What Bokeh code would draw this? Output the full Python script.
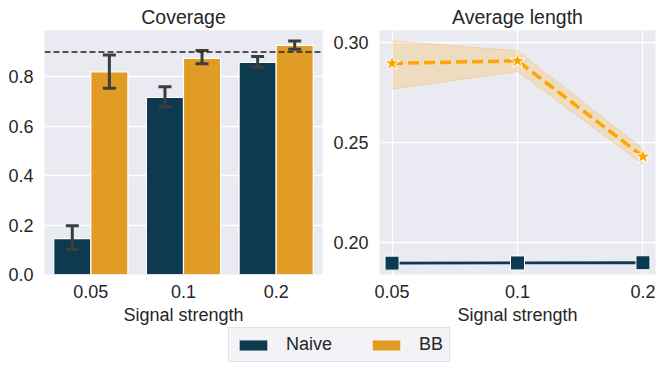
from bokeh.plotting import figure
from bokeh.models import (FactorRange, Range1d, FixedTicker, PrintfTickFormatter,
                          ColumnDataSource, Span, Legend, LegendItem)
from bokeh.transform import dodge
from bokeh.layouts import column, row
from bokeh.embed import file_html
from bokeh.resources import INLINE

# ---------------- data ----------------
signal = ["0.05", "0.1", "0.2"]
methods = ["Naive", "BB"]

cov_naive = [0.145, 0.716, 0.858]
cov_naive_lo = [0.101, 0.678, 0.838]
cov_naive_hi = [0.197, 0.759, 0.882]
cov_bb = [0.820, 0.874, 0.927]
cov_bb_lo = [0.753, 0.852, 0.911]
cov_bb_hi = [0.888, 0.906, 0.945]
target = 0.9

len_naive = [0.1895, 0.1896, 0.1897]
len_naive_lo = [0.1893, 0.1894, 0.1895]
len_naive_hi = [0.1897, 0.1898, 0.1899]
len_bb = [0.2897, 0.2910, 0.2430]
len_bb_lo = [0.2767, 0.2856, 0.2391]
len_bb_hi = [0.3010, 0.2961, 0.2469]

cov_ticks = [0.0, 0.2, 0.4, 0.6, 0.8]
len_ticks = [0.20, 0.25, 0.30]

NAVY_BAR = "#0e3a4f"
ORANGE_BAR = "#e09c24"
NAVY_LINE = "#0b3b50"
ORANGE_LINE = "#ffa500"
BG = "#eaeaf2"
TXT = "#262626"
FONT = "Liberation Sans"


def style(p):
    p.background_fill_color = BG
    p.border_fill_color = "white"
    p.outline_line_color = None
    p.title.text_font = FONT
    p.title.text_font_size = "19.5px"
    p.title.text_font_style = "normal"
    p.title.text_color = TXT
    p.title.align = "center"
    p.title.standoff = 6
    for ax in p.axis:
        ax.axis_line_color = None
        ax.major_tick_line_color = None
        ax.minor_tick_line_color = None
        ax.major_label_text_font = FONT
        ax.major_label_text_font_size = "18px"
        ax.major_label_text_color = TXT
        ax.axis_label_text_font = FONT
        ax.axis_label_text_font_size = "18px"
        ax.axis_label_text_font_style = "normal"
        ax.axis_label_text_color = TXT
    p.grid.grid_line_color = "white"
    p.grid.grid_line_width = 1.3
    p.xaxis.major_label_standoff = 4
    p.xaxis.axis_label_standoff = 4
    p.yaxis.major_tick_out = 0
    p.yaxis.major_tick_in = 0
    p.yaxis.minor_tick_out = 0
    p.yaxis.major_label_standoff = 11


# ---------------- left: coverage bars ----------------
src = ColumnDataSource(dict(
    x=signal, naive=cov_naive, nlo=cov_naive_lo, nhi=cov_naive_hi,
    bb=cov_bb, blo=cov_bb_lo, bhi=cov_bb_hi))

p1 = figure(width=330, height=327, output_backend="svg", toolbar_location=None,
            x_range=FactorRange(*signal, range_padding=0),
            y_range=Range1d(0, 0.987),
            title="Coverage", x_axis_label="Signal strength",
            min_border_left=44, min_border_right=8, min_border_top=0, min_border_bottom=0)
p1.vbar(x=dodge("x", -0.2, range=p1.x_range), top="naive", width=0.4, source=src,
        fill_color=NAVY_BAR, line_color="white", line_width=1.2)
p1.vbar(x=dodge("x", 0.2, range=p1.x_range), top="bb", width=0.4, source=src,
        fill_color=ORANGE_BAR, line_color="white", line_width=1.2)

EB = "#3d3d3d"
for off, lo, hi in [(-0.2, "nlo", "nhi"), (0.2, "blo", "bhi")]:
    p1.segment(x0=dodge("x", off, range=p1.x_range), x1=dodge("x", off, range=p1.x_range),
               y0=lo, y1=hi, source=src, line_color=EB, line_width=3)
    for yy in (lo, hi):
        p1.segment(x0=dodge("x", off - 0.07, range=p1.x_range),
                   x1=dodge("x", off + 0.07, range=p1.x_range),
                   y0=yy, y1=yy, source=src, line_color=EB, line_width=3)

p1.add_layout(Span(location=target, dimension="width", line_color="#222222",
                   line_dash="6 3", line_width=1.6))
p1.yaxis.ticker = FixedTicker(ticks=cov_ticks)
p1.yaxis.formatter = PrintfTickFormatter(format="%.1f")
style(p1)
p1.xgrid.grid_line_color = None

# ---------------- right: average length ----------------
xi = list(range(len(signal)))
p2 = figure(width=326, height=327, output_backend="svg", toolbar_location=None,
            x_range=Range1d(-0.1, 2.1), y_range=Range1d(0.1838, 0.3062),
            title="Average length", x_axis_label="Signal strength",
            min_border_left=48, min_border_right=1, min_border_top=0, min_border_bottom=0)

p2.varea(x=xi, y1=len_bb_lo, y2=len_bb_hi, fill_color=ORANGE_LINE, fill_alpha=0.2)
p2.line(x=xi, y=len_bb_lo, line_color=ORANGE_LINE, line_alpha=0.25, line_width=1)
p2.line(x=xi, y=len_bb_hi, line_color=ORANGE_LINE, line_alpha=0.25, line_width=1)
p2.varea(x=xi, y1=len_naive_lo, y2=len_naive_hi, fill_color=NAVY_LINE, fill_alpha=0.2)
p2.line(x=xi, y=len_naive, line_color=NAVY_LINE, line_width=2.8)
p2.scatter(x=xi, y=len_naive, marker="square", size=14, fill_color=NAVY_LINE,
           line_color="white", line_width=1)
p2.line(x=xi, y=len_bb, line_color=ORANGE_LINE, line_width=3.5, line_dash="11 5")
p2.scatter(x=xi, y=len_bb, marker="star", size=16, fill_color=ORANGE_LINE,
           line_color="white", line_width=1)

p2.xaxis.ticker = FixedTicker(ticks=xi)
p2.xaxis.major_label_overrides = {i: s for i, s in zip(xi, signal)}
p2.yaxis.ticker = FixedTicker(ticks=len_ticks)
p2.yaxis.formatter = PrintfTickFormatter(format="%.2f")
style(p2)

# ---------------- legend ----------------
p3 = figure(width=656, height=40, output_backend="svg", toolbar_location=None,
            x_range=Range1d(0, 1), y_range=Range1d(0, 1),
            x_axis_location=None, y_axis_location=None,
            min_border=0)
p3.outline_line_color = None
p3.grid.grid_line_color = None
p3.background_fill_color = "white"
r_n = p3.vbar(x=[5], top=[1], width=0.1, fill_color=NAVY_BAR, line_color="white")
r_b = p3.vbar(x=[5], top=[1], width=0.1, fill_color=ORANGE_BAR, line_color="white")
leg = Legend(items=[LegendItem(label=methods[0], renderers=[r_n]),
                    LegendItem(label=methods[1], renderers=[r_b])],
             orientation="horizontal", location=(228, 5),
             label_text_font=FONT, label_text_font_size="18px", label_text_color=TXT,
             glyph_width=36, glyph_height=14, label_standoff=15, spacing=36,
             padding=6, margin=0,
             background_fill_color=BG, background_fill_alpha=0.6,
             border_line_color="#d0d0d8", border_line_width=1)
p3.add_layout(leg)

layout = column(row(p1, p2), p3)
open("out.html", "w").write(file_html(layout, INLINE))
